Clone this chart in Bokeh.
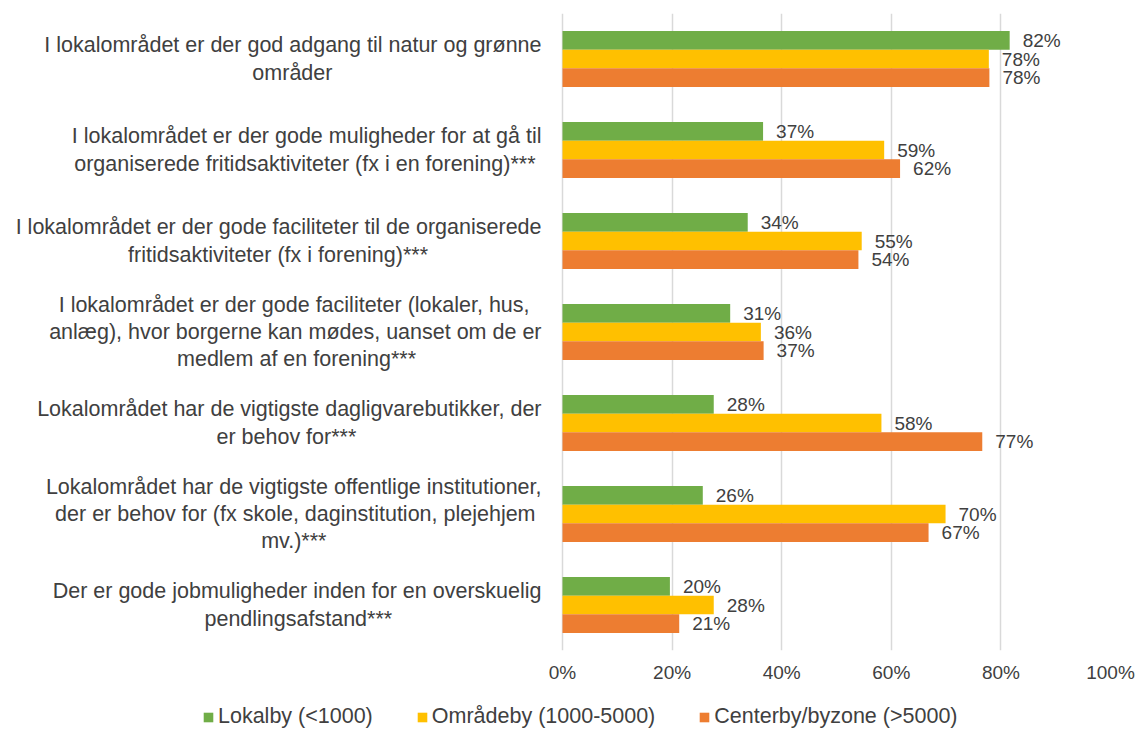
from bokeh.plotting import figure
from bokeh.layouts import column
from bokeh.models import (Range1d, FactorRange, FixedTicker, PrintfTickFormatter,
                          Legend, LegendItem, ColumnDataSource)
from bokeh.transform import dodge
from bokeh.core.properties import value
from bokeh.embed import file_html
from bokeh.resources import INLINE

# ---------------- data ----------------
categories = [
    ["I lokalområdet er der god adgang til natur og grønne", "områder"],
    ["I lokalområdet er der gode muligheder for at gå til",
     "organiserede fritidsaktiviteter (fx i en forening)***"],
    ["I lokalområdet er der gode faciliteter til de organiserede",
     "fritidsaktiviteter (fx i forening)***"],
    ["I lokalområdet er der gode faciliteter (lokaler, hus,",
     "anlæg), hvor borgerne kan mødes, uanset om de er",
     "medlem af en forening***"],
    ["Lokalområdet har de vigtigste dagligvarebutikker, der",
     "er behov for***"],
    ["Lokalområdet har de vigtigste offentlige institutioner,",
     "der er behov for (fx skole, daginstitution, plejehjem",
     "mv.)***"],
    ["Der er gode jobmuligheder inden for en overskuelig",
     "pendlingsafstand***"],
]
series_names = ["Lokalby (<1000)", "Områdeby (1000-5000)", "Centerby/byzone (>5000)"]
lokalby = [81.6, 36.6, 33.8, 30.6, 27.6, 25.6, 19.6]
omraadeby = [77.8, 58.7, 54.6, 36.2, 58.2, 69.9, 27.6]
centerby = [77.9, 61.6, 54.0, 36.7, 76.6, 66.8, 21.3]
x_ticks = [0, 20, 40, 60, 80, 100]

# ---------------- style ----------------
colors = ["#70AD47", "#FFC000", "#ED7D31"]
TXT = "#404040"
FONT = "Liberation Sans"
CAT_FS = 21.5
bar_h = 0.205

# Arial / Liberation Sans advance widths (per 1000 em), used to centre the
# lines of each wrapped category label inside a right-aligned block
AW = {' ': 278, '(': 333, ')': 333, '*': 389, ',': 278, '.': 278, '-': 333,
      'a': 556, 'b': 556, 'c': 500, 'd': 556, 'e': 556, 'f': 278, 'g': 556,
      'h': 556, 'i': 222, 'j': 222, 'k': 500, 'l': 222, 'm': 833, 'n': 556,
      'o': 556, 'p': 556, 'q': 556, 'r': 333, 's': 500, 't': 278, 'u': 556,
      'v': 500, 'w': 722, 'x': 500, 'y': 500, 'z': 500, 'å': 556, 'æ': 889,
      'ø': 611, 'I': 278, 'L': 556, 'D': 722}


def text_w(s):
    return sum(AW.get(c, 556) for c in s) * CAT_FS / 1000.0


SP = 278 * CAT_FS / 1000.0
cat_labels = []
for lines in categories:
    wmax = max(text_w(s) for s in lines)
    padded = [s + "\u00a0" * int(round((wmax - text_w(s)) / 2.0 / SP)) for s in lines]
    cat_labels.append("\n".join(padded))

W = 1137
H_MAIN = 695
H_LEG = 36
PLOT_LEFT = 562      # pixel where 0 % sits
PLOT_W = 548         # pixels from 0 % to 100 %
RIGHT = W - PLOT_LEFT - PLOT_W

p = figure(width=W, height=H_MAIN, output_backend="svg", toolbar_location=None,
           x_range=Range1d(-100.0 * PLOT_LEFT / PLOT_W, 100),
           y_range=FactorRange(factors=cat_labels[::-1]),
           y_axis_location=None,
           min_border_left=0, min_border_right=RIGHT, min_border_top=13,
           min_border_bottom=45)
p.outline_line_color = None
p.background_fill_color = "white"
p.border_fill_color = "white"

offsets = [bar_h, 0.0, -bar_h]
series = [lokalby, omraadeby, centerby]
for vals, off, col in zip(series, offsets, colors):
    src = ColumnDataSource(dict(cat=cat_labels, v=vals,
                                lab=[f"{round(v)}%" for v in vals]))
    yy = dodge("cat", off, range=p.y_range)
    p.hbar(y=yy, left=0, right="v", height=bar_h, source=src,
           fill_color=col, line_color=None)
    p.text(x="v", y=yy, text="lab", source=src, x_offset=13,
           text_align="left", text_baseline="middle",
           text_font=value(FONT), text_font_size="19px", text_color=TXT)

# category labels, right-aligned against the 0 % line
cat_src = ColumnDataSource(dict(cat=cat_labels, x0=[0] * len(cat_labels)))
p.text(x="x0", y="cat", text="cat", source=cat_src, x_offset=-21,
       text_align="right", text_baseline="middle", text_line_height=1.14,
       text_font=value(FONT), text_font_size=f"{CAT_FS}px", text_color=TXT)

# grid and axis
p.ygrid.visible = False
p.xgrid.ticker = FixedTicker(ticks=x_ticks)
p.xgrid.grid_line_color = "#D9D9D9"
p.xgrid.grid_line_width = 1.5
p.xaxis.ticker = FixedTicker(ticks=x_ticks)
p.xaxis.formatter = PrintfTickFormatter(format="%d%%")
p.xaxis.axis_line_color = None
p.xaxis.major_tick_line_color = None
p.xaxis.minor_tick_line_color = None
p.xaxis.major_label_standoff = 5
p.xaxis.major_label_text_font = FONT
p.xaxis.major_label_text_font_size = "19px"
p.xaxis.major_label_text_color = TXT

# ---------------- legend strip ----------------
pl = figure(width=W, height=H_LEG, output_backend="svg", toolbar_location=None,
            x_range=Range1d(0, 100), y_range=Range1d(0, 1),
            x_axis_location=None, y_axis_location=None,
            min_border_left=0, min_border_right=0, min_border_top=0,
            min_border_bottom=0)
pl.outline_line_color = None
pl.xgrid.visible = False
pl.ygrid.visible = False
leg_renderers = []
for vals, col in zip(series, colors):
    r = pl.hbar(y=0.5, left=0, right="v", height=0.5,
                source=ColumnDataSource(dict(v=vals)),
                fill_color=col, line_color=None)
    r.visible = False
    leg_renderers.append(r)
legend = Legend(items=[LegendItem(label=nm, renderers=[r])
                       for nm, r in zip(series_names, leg_renderers)],
                orientation="horizontal", location=(202, 2),
                spacing=43, label_standoff=4, glyph_width=12, glyph_height=12,
                padding=0, margin=0, border_line_color=None,
                background_fill_alpha=0, label_height=22,
                label_text_font=FONT, label_text_font_size="21.5px",
                label_text_color=TXT, label_text_baseline="middle")
pl.add_layout(legend)

layout = column(p, pl, spacing=0)
open("out.html", "w").write(file_html(layout, INLINE))
